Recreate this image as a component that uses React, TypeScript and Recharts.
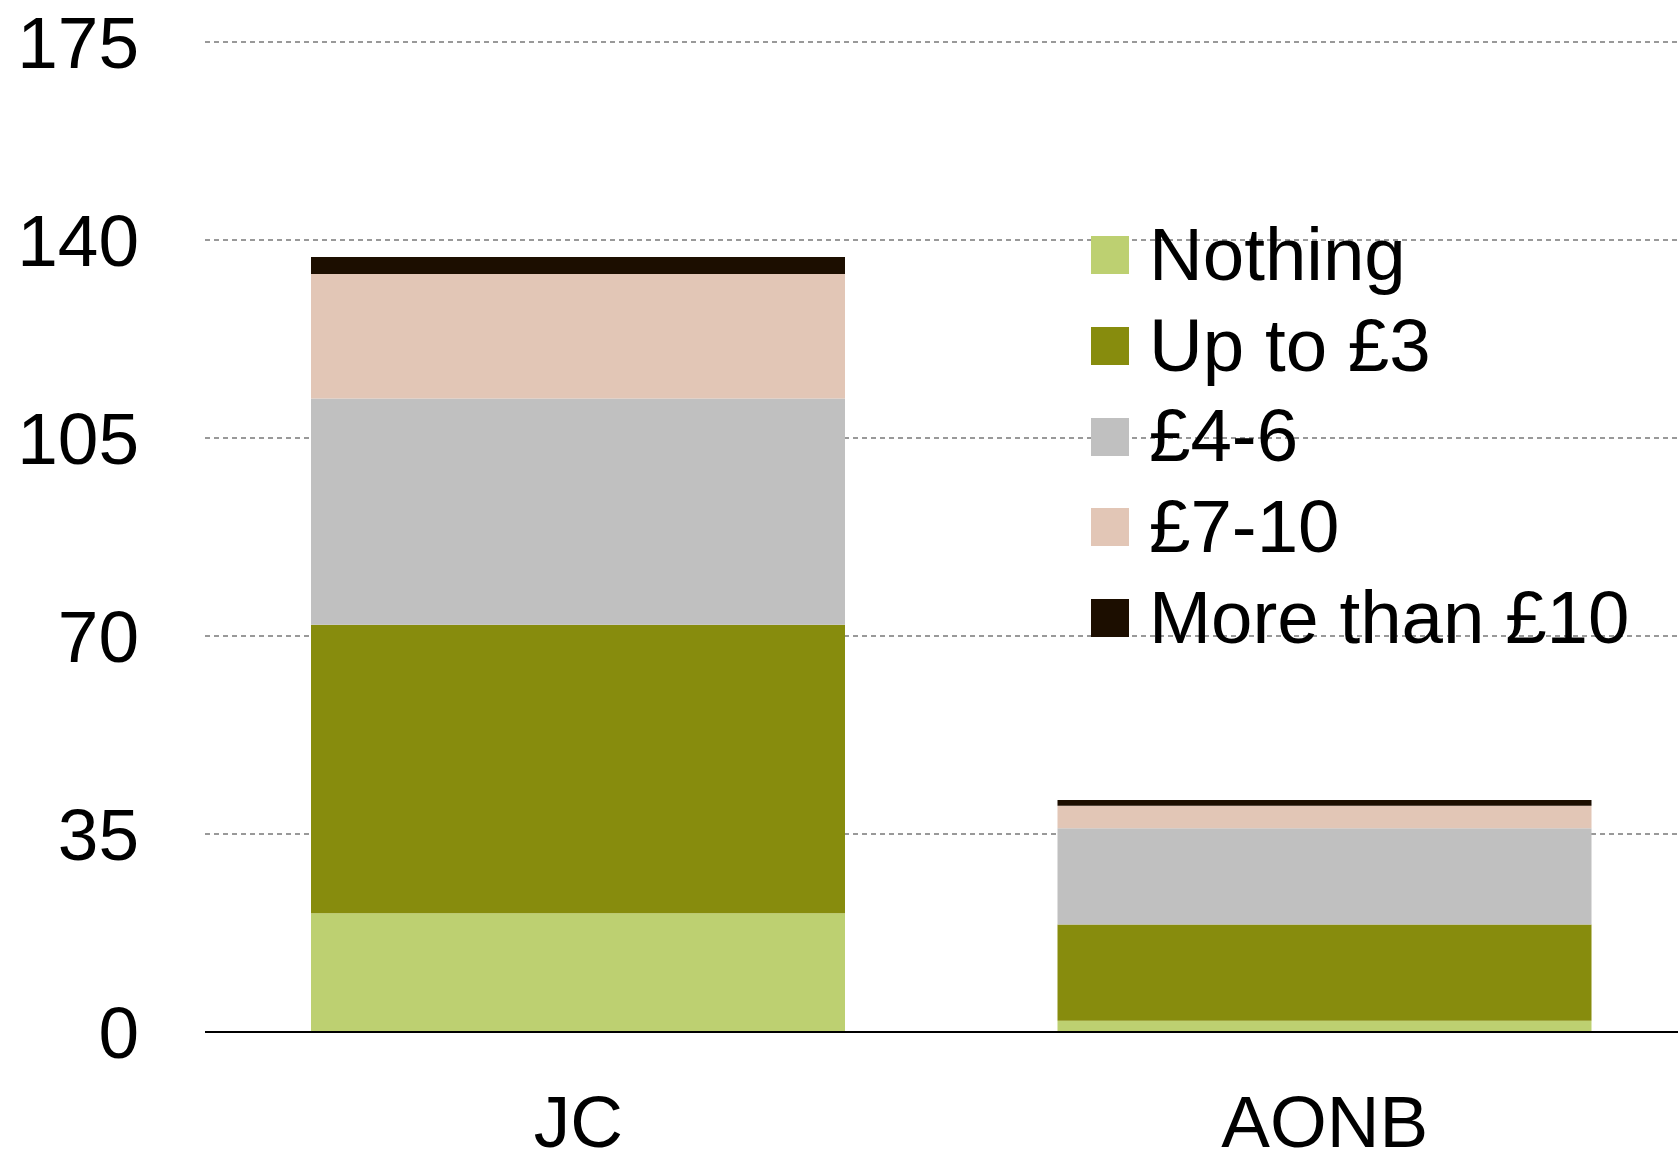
import { BarChart, Bar, XAxis, YAxis, CartesianGrid } from 'recharts';

const CATEGORIES = ['JC', 'AONB'];
const NOTHING    = [21, 2];
const UP_TO_3    = [51, 17];
const FOUR_SIX   = [40, 17];
const SEVEN_TEN  = [22, 4];
const MORE_10    = [3, 1];
const Y_TICKS    = [0, 35, 70, 105, 140, 175];

const SERIES = [
  { key: 'nothing',  name: 'Nothing',        color: '#BDD071', values: NOTHING },
  { key: 'upto3',    name: 'Up to £3',       color: '#878C0D', values: UP_TO_3 },
  { key: 'four6',    name: '£4-6',           color: '#C0C0C0', values: FOUR_SIX },
  { key: 'seven10',  name: '£7-10',          color: '#E2C6B6', values: SEVEN_TEN },
  { key: 'more10',   name: 'More than £10',  color: '#1C0E00', values: MORE_10 },
];

const data = CATEGORIES.map((cat, i) => {
  const row: Record<string, string | number> = { cat };
  SERIES.forEach(s => { row[s.key] = s.values[i]; });
  return row;
});

const FONT = '"Liberation Sans", Arial, sans-serif';
const TICK = { fontSize: 73, fill: '#000', fontFamily: FONT };

// legend drawn as an overlay so it doesn't eat into the plot area
function LegendBox() {
  return (
    <div style={{ position: 'absolute', left: 1091, top: 210, fontFamily: FONT, fontSize: 74.5, color: '#000' }}>
      {SERIES.map(s => (
        <div key={s.key} style={{ display: 'flex', alignItems: 'center', height: 90.7, whiteSpace: 'nowrap' }}>
          <span style={{ width: 38, height: 38, background: s.color, marginRight: 20, flex: 'none' }} />
          <span style={{ lineHeight: 1 }}>{s.name}</span>
        </div>
      ))}
    </div>
  );
}

export default function App() {
  return (
    <div style={{ position: 'absolute', left: 0, top: 0, width: 1678, height: 1152, overflow: 'hidden', background: '#fff' }}>
      <BarChart width={1698} height={1152} data={data} margin={{ top: 42, right: 0, left: 0, bottom: 0 }}>
        <CartesianGrid horizontal vertical={false} stroke="#999" strokeWidth={2} strokeDasharray="5 4" />
        <XAxis dataKey="cat" height={120} tick={TICK} tickLine={false} tickSize={0} tickMargin={63}
               axisLine={{ stroke: '#000', strokeWidth: 2 }} />
        <YAxis domain={[0, 175]} ticks={Y_TICKS} width={205} tick={TICK} tickLine={false} tickSize={0}
               tickMargin={66} axisLine={false} interval={0} />
        {SERIES.map(s => (
          <Bar key={s.key} dataKey={s.key} name={s.name} stackId="a" fill={s.color} barSize={534} isAnimationActive={false} />
        ))}
      </BarChart>
      <LegendBox />
    </div>
  );
}
